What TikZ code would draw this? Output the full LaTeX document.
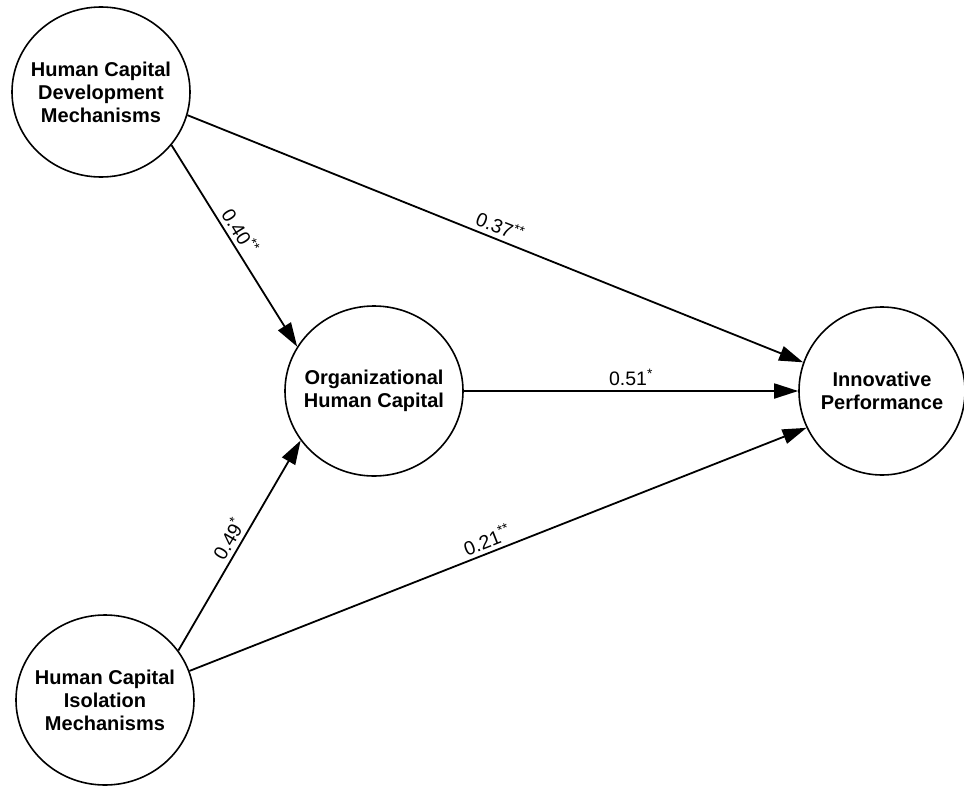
\documentclass[tikz,border=0pt]{standalone}
\usepackage{fontspec}
\setmainfont{Liberation Sans}
\usetikzlibrary{shapes.geometric, arrows.meta}
\tikzset{
  latvar/.style={ellipse, draw=black, line width=1.6pt, fill=white,
                 minimum width=178pt, minimum height=170pt,
                 inner xsep=-14pt, inner ysep=0pt,
                 align=center, font=\fontsize{20}{23}\selectfont\bfseries},
  patharrow/.style={-{Triangle[length=24pt,width=15pt]}, line width=1.8pt},
  coef/.style={font=\fontsize{19.5}{21}\selectfont, sloped, above, inner sep=4pt},
}

\begin{document}
\begin{tikzpicture}[x=1pt, y=-1pt]
  \useasboundingbox (0,0) rectangle (964,790);

  % Latent variables
  \node[latvar] (hcdm) at (101, 92)
    {Human Capital\\Development\\Mechanisms};
  \node[latvar] (ohc) at (374, 391)
    {Organizational\\Human Capital};
  \node[latvar] (hcim) at (105, 700)
    {Human Capital\\Isolation\\Mechanisms};
  \node[latvar, minimum width=166pt, minimum height=168pt] (ip) at (882, 391)
    {Innovative\\Performance};

  % Paths
  \draw[patharrow] (hcdm.-15) -- node[coef, pos=0.5] {0.37\textsuperscript{**}} (ip.160);
  \draw[patharrow] (hcdm.-37) -- node[coef, pos=0.46] {0.40\textsuperscript{**}} (ohc.150);
  \draw[patharrow] (ohc.east) -- node[coef, pos=0.5] {0.51\textsuperscript{*}} (ip.west);
  \draw[patharrow] (hcim.34) -- node[coef, pos=0.5] {0.49\textsuperscript{*}} (ohc.-146);
  \draw[patharrow] (hcim.19) -- node[coef, pos=0.49] {0.21\textsuperscript{**}} (ip.-154);
\end{tikzpicture}
\end{document}
